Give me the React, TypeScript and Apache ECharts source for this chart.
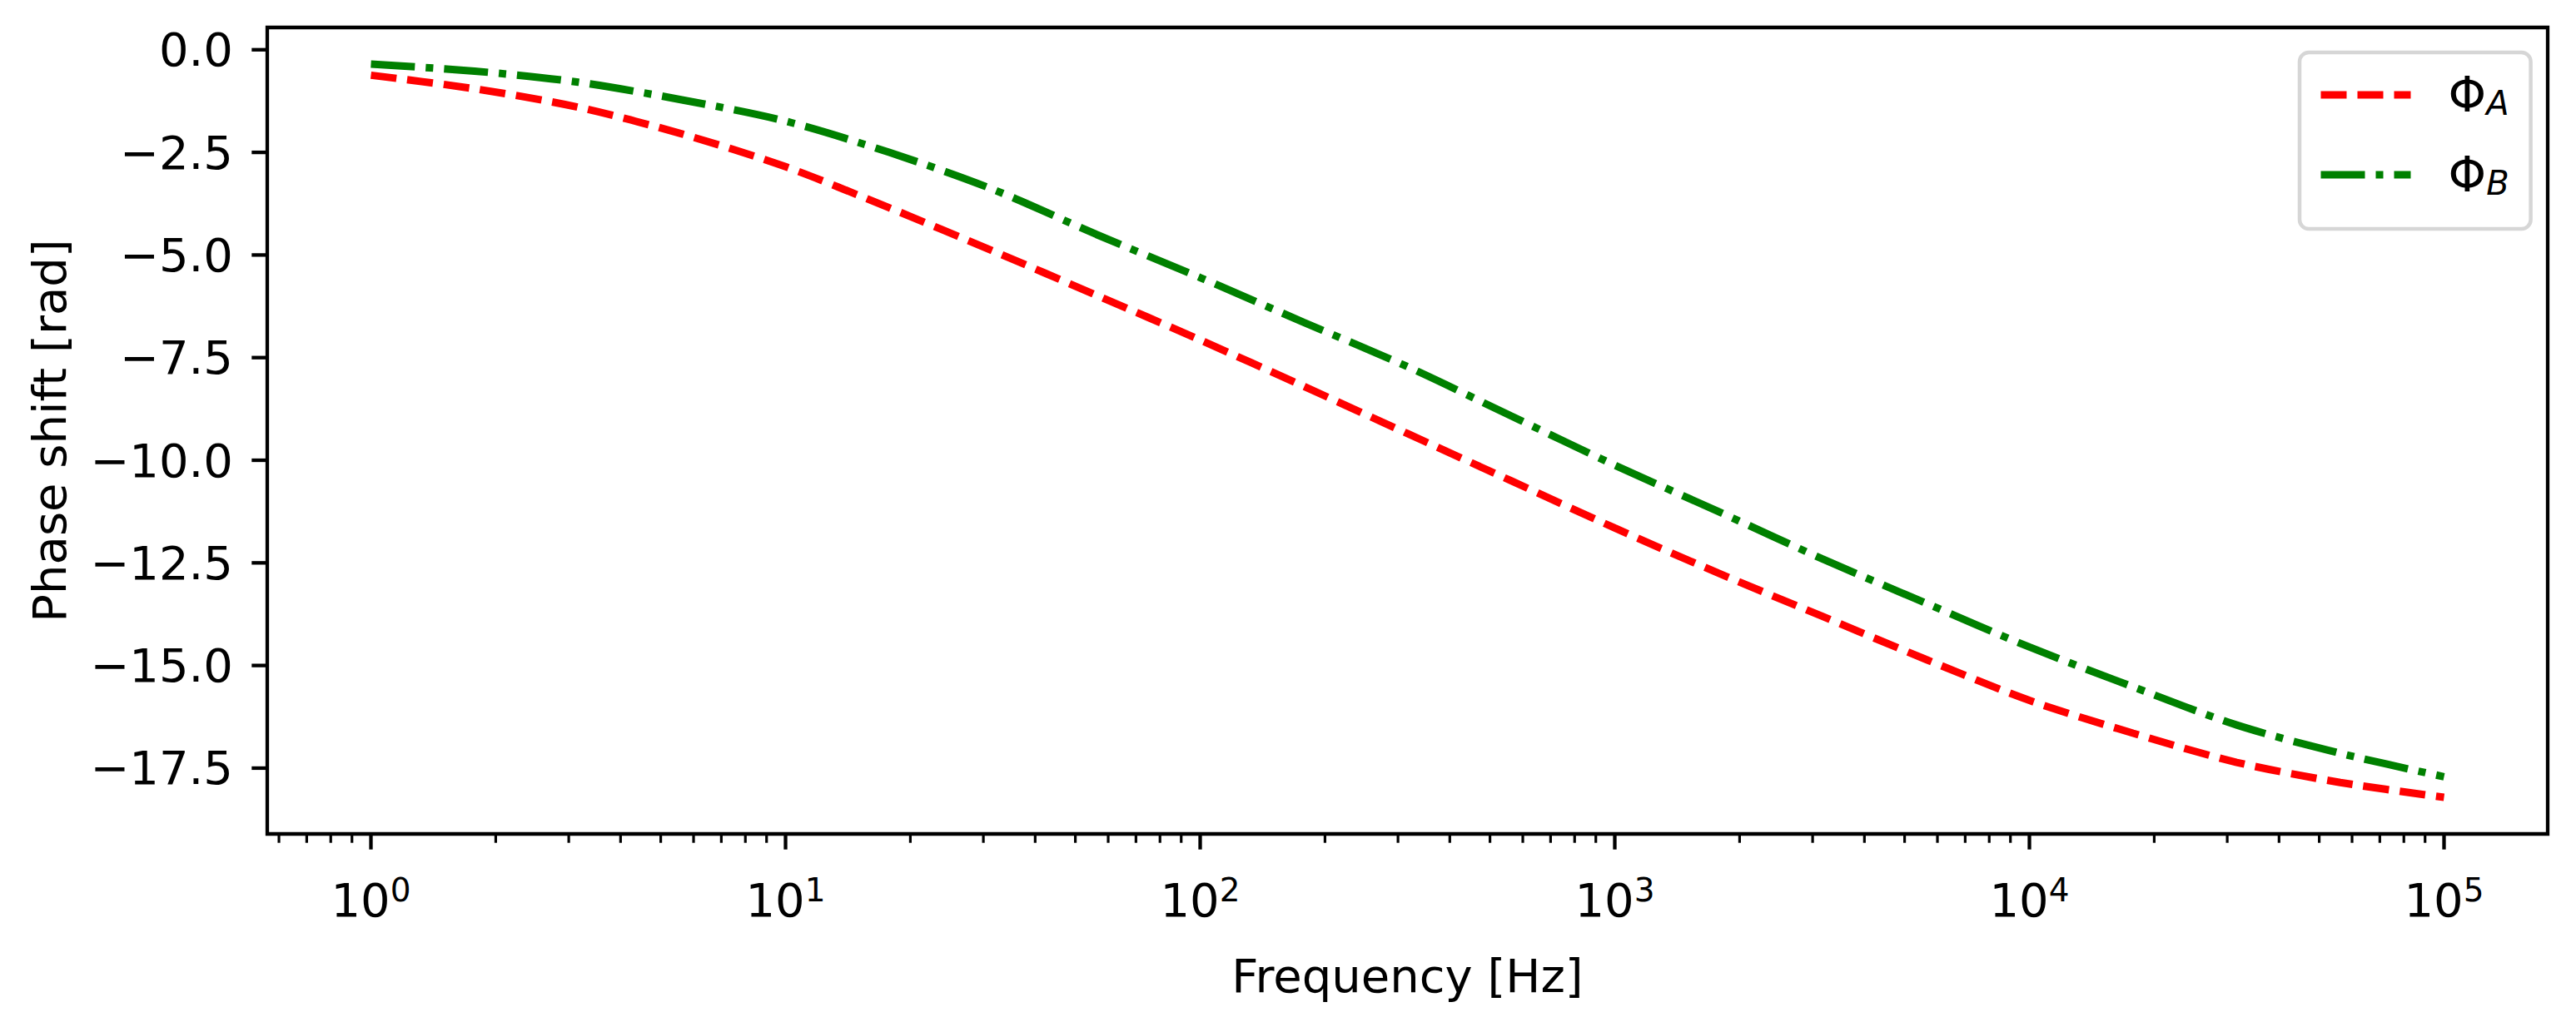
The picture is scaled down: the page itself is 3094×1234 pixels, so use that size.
import React, { useEffect, useRef } from "react";
import * as echarts from "echarts";

// Frequencies in Hz (quarter-decade steps)
const frequencies = [
  1, 1.778, 3.162, 5.623, 10, 17.78, 31.62, 56.23, 100, 177.8, 316.2, 562.3,
  1000, 1778, 3162, 5623, 10000, 17783, 31623, 56234, 100000,
];

// Phase shift Φ_A [rad] (red dashed)
const phaseA = [
  -0.62, -0.95, -1.4, -2.05, -2.85, -3.85, -4.9, -5.98, -7.07, -8.2, -9.35,
  -10.5, -11.65, -12.75, -13.8, -14.85, -15.85, -16.65, -17.36, -17.85, -18.21,
];

// Phase shift Φ_B [rad] (green dash-dot)
const phaseB = [
  -0.35, -0.52, -0.79, -1.22, -1.74, -2.5, -3.4, -4.5, -5.55, -6.64, -7.72,
  -8.92, -10.12, -11.25, -12.4, -13.48, -14.55, -15.52, -16.45, -17.14, -17.71,
];

const seriesNames = ["ΦA", "ΦB"];
const xMajorTicks = [1, 10, 100, 1000, 10000, 100000];
const minorMultipliers = [2, 3, 4, 5, 6, 7, 8, 9];
const minorDecades = [0.1, 1, 10, 100, 1000, 10000];
const yTicks = [0, -2.5, -5, -7.5, -10, -12.5, -15, -17.5];

const X_MIN = 0.5623;
const X_MAX = 177828;
const Y_MIN = -19.103;
const Y_MAX = 0.543;

const FONT = "DejaVu Sans";
const FS = 56;

export default function App() {
  const ref = useRef<HTMLDivElement>(null);

  useEffect(() => {
    if (!ref.current) return;
    const chart = echarts.init(ref.current, null, { renderer: "svg" });

    const xMinorTicks: number[] = [];
    minorDecades.forEach((d) =>
      minorMultipliers.forEach((m) => {
        const v = +(m * d).toPrecision(6);
        if (v > X_MIN && v < X_MAX) xMinorTicks.push(v);
      })
    );

    const fmtY = (v: number) => {
      if (Math.abs(v) < 1e-9) return "0.0";
      return (v < 0 ? "\u2212" : "") + Math.abs(v).toFixed(1);
    };

    // Tick marks drawn through the axes' own scales (api.coord)
    const tickSeries = (
      name: string,
      data: number[][],
      dir: "down" | "left",
      len: number,
      width: number
    ) => ({
      name,
      type: "custom",
      xAxisIndex: 0,
      yAxisIndex: 0,
      silent: true,
      clip: false,
      z: 5,
      data,
      renderItem: (_params: any, api: any) => {
        const p = api.coord([api.value(0), api.value(1)]);
        const x2 = dir === "left" ? p[0] - len : p[0];
        const y2 = dir === "down" ? p[1] + len : p[1];
        return {
          type: "line",
          shape: { x1: p[0], y1: p[1], x2, y2 },
          style: { stroke: "#000000", lineWidth: width, lineCap: "butt" },
        };
      },
    });

    chart.setOption({
      animation: false,
      backgroundColor: "#ffffff",
      grid: {
        left: 321,
        top: 33,
        width: 2739,
        height: 969,
        show: true,
        borderColor: "#000000",
        borderWidth: 4.3,
        backgroundColor: "transparent",
        containLabel: false,
        outerBoundsMode: "none",
      },
      xAxis: {
        type: "log",
        logBase: 10,
        min: X_MIN,
        max: X_MAX,
        position: "bottom",
        name: "Frequency [Hz]",
        nameLocation: "middle",
        nameGap: 142,
        nameMoveOverlap: false,
        nameTextStyle: { fontFamily: FONT, fontSize: FS, color: "#000000" },
        axisLine: { show: false, onZero: false },
        splitLine: { show: false },
        minorTick: { show: false },
        axisTick: { show: false },
        axisLabel: {
          show: true,
          customValues: xMajorTicks,
          margin: 48,
          formatter: (v: number) => `{b|10}{s|${Math.round(Math.log10(v))}}`,
          rich: {
            b: { fontFamily: FONT, fontSize: FS, color: "#000000", lineHeight: 62 },
            s: {
              fontFamily: FONT,
              fontSize: 39,
              color: "#000000",
              lineHeight: 28,
              verticalAlign: "top",
            },
          },
        },
      },
      yAxis: {
        type: "value",
        min: Y_MIN,
        max: Y_MAX,
        name: "Phase shift [rad]",
        nameLocation: "middle",
        nameGap: 234,
        nameMoveOverlap: false,
        nameTextStyle: { fontFamily: FONT, fontSize: FS, color: "#000000" },
        axisLine: { show: false, onZero: false },
        splitLine: { show: false },
        axisTick: { show: false },
        axisLabel: {
          show: true,
          customValues: yTicks,
          margin: 41,
          formatter: fmtY,
          fontFamily: FONT,
          fontSize: FS,
          color: "#000000",
        },
      },
      legend: {
        show: true,
        orient: "vertical",
        left: 2762,
        top: 63,
        padding: [22, 26, 35, 21],
        itemGap: 37,
        itemWidth: 108,
        itemHeight: 60,
        selectedMode: false,
        backgroundColor: "rgba(255,255,255,0.8)",
        borderColor: "#d6d6d6",
        borderWidth: 4.5,
        borderRadius: 11,
        data: [
          {
            name: seriesNames[0],
            itemStyle: { opacity: 0 },
            lineStyle: { color: "#ff0000", width: 9, type: [31, 13], cap: "butt" },
          },
          {
            name: seriesNames[1],
            itemStyle: { opacity: 0 },
            lineStyle: { color: "#008000", width: 9, type: [53, 13, 9, 13], cap: "butt" },
          },
        ],
        formatter: (name: string) => `{phi|Φ}{sub|${name.slice(1)}}`,
        textStyle: {
          rich: {
            phi: {
              fontFamily: FONT,
              fontSize: 58,
              color: "#000000",
              lineHeight: 60,
              padding: [0, 0, 0, 40],
            },
            sub: {
              fontFamily: FONT,
              fontSize: 40,
              fontStyle: "italic",
              color: "#000000",
              lineHeight: 32,
              verticalAlign: "bottom",
            },
          },
        },
      },
      series: [
        {
          name: seriesNames[0],
          type: "line",
          data: frequencies.map((f, i) => [f, phaseA[i]]),
          symbol: "none",
          showSymbol: false,
          smooth: 0.3,
          silent: true,
          itemStyle: { color: "#ff0000" },
          lineStyle: { color: "#ff0000", width: 9, type: [31, 13], cap: "butt" },
        },
        {
          name: seriesNames[1],
          type: "line",
          data: frequencies.map((f, i) => [f, phaseB[i]]),
          symbol: "none",
          showSymbol: false,
          smooth: 0.3,
          silent: true,
          itemStyle: { color: "#008000" },
          lineStyle: { color: "#008000", width: 9, type: [53, 13, 9, 13], cap: "butt" },
        },
        tickSeries("xMajorTicks", xMajorTicks.map((v) => [v, Y_MIN]), "down", 18.7, 4.3),
        tickSeries("xMinorTicks", xMinorTicks.map((v) => [v, Y_MIN]), "down", 10.7, 3.2),
        tickSeries("yMajorTicks", yTicks.map((v) => [X_MIN, v]), "left", 18.7, 4.3),
      ],
    });

    return () => chart.dispose();
  }, []);

  return (
    <div
      ref={ref}
      style={{ position: "absolute", left: 0, top: 0, width: 3094, height: 1234 }}
    />
  );
}
